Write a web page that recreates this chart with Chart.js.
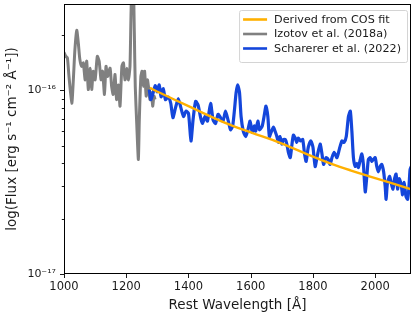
<!DOCTYPE html>
<html><head><meta charset="utf-8">
<script src="https://cdn.jsdelivr.net/npm/chart.js@4.4.1/dist/chart.umd.min.js"></script>
<style>html,body{margin:0;padding:0;background:#fff;}#wrap{width:416px;height:318px;}</style>
</head><body><div id="wrap"><canvas id="c" width="416" height="318"></canvas></div>
<script>
// Flux values are in units of 1e-16 erg s^-1 cm^-2 A^-1
const FLUX_UNIT = 1e-16;

const izotovWave = [1000,1006,1011,1016,1025,1030,1035,1041,1046,1051,1057,1062,1068,1073,1078,1084,1089,1094,1100,1107,1113,1119,1124,1130,1135,1140,1148,1153,1158,1164,1169,1175,1180,1186,1191,1196,1202,1207,1212,1215,1219,1223,1226,1229,1234,1239,1242,1247,1251,1255,1259,1264,1268,1272,1276,1281,1285,1289,1293];
const izotovFlux = [1.61,1.53,1.50,1.19,0.85,1.14,1.66,2.12,1.81,1.47,1.35,1.41,1.14,1.44,1.01,1.32,1.01,1.27,1.14,1.53,1.44,1.14,1.27,0.95,1.35,1.19,1.32,1.05,0.95,1.22,0.89,1.07,0.82,1.35,1.41,1.14,1.32,1.14,1.35,2.42,4.5,3.8,2.06,1.05,0.64,0.42,0.69,1.19,1.27,1.05,1.27,0.93,1.14,1.03,0.89,0.97,0.82,0.93,0.89];

const scharererWave = [1274,1279,1285,1293,1299,1306,1312,1319,1326,1335,1343,1350,1358,1367,1375,1384,1392,1400,1408,1415,1423,1431,1439,1445,1453,1461,1471,1479,1487,1495,1503,1511,1519,1528,1535,1542,1548,1553,1558,1564,1569,1576,1584,1591,1598,1605,1611,1616,1623,1628,1637,1644,1649,1655,1660,1667,1673,1678,1684,1689,1694,1700,1705,1711,1716,1721,1727,1732,1737,1743,1748,1753,1760,1767,1773,1778,1785,1793,1800,1807,1814,1823,1829,1834,1842,1849,1855,1861,1868,1877,1885,1893,1900,1907,1914,1920,1925,1930,1936,1941,1946,1952,1957,1962,1968,1973,1978,1984,1989,1994,2000,2005,2010,2016,2021,2027,2032,2035,2039,2046,2051,2057,2062,2067,2072,2077,2083,2088,2093,2099,2104,2108,2112,2116];
const scharererFlux = [1.01,0.89,0.95,1.06,0.98,1.07,0.92,1.02,0.89,0.92,0.85,0.71,0.80,0.90,0.81,0.72,0.77,0.75,0.53,0.70,0.87,0.83,0.71,0.66,0.72,0.68,0.85,0.69,0.66,0.74,0.71,0.68,0.77,0.68,0.61,0.64,0.79,0.97,1.07,0.97,0.72,0.60,0.56,0.61,0.68,0.59,0.64,0.60,0.68,0.61,0.64,0.74,0.82,0.72,0.56,0.60,0.63,0.60,0.56,0.52,0.56,0.51,0.54,0.54,0.51,0.46,0.43,0.50,0.57,0.55,0.52,0.55,0.53,0.54,0.45,0.41,0.49,0.53,0.49,0.385,0.44,0.51,0.45,0.395,0.43,0.42,0.395,0.43,0.46,0.43,0.48,0.53,0.52,0.56,0.72,0.77,0.60,0.43,0.385,0.40,0.38,0.42,0.45,0.395,0.28,0.34,0.42,0.43,0.41,0.42,0.43,0.385,0.36,0.385,0.395,0.36,0.30,0.255,0.31,0.34,0.315,0.29,0.33,0.35,0.29,0.33,0.31,0.27,0.315,0.264,0.255,0.29,0.37,0.385];

const fitWave = [1276,1308,1400,1518,1600,1694,1800,1855,1920,2000,2116];
const fitFlux = [1.03,0.97,0.82,0.665,0.59,0.518,0.435,0.40,0.367,0.333,0.289];

const seriesLabels = ['Derived from COS fit','Izotov et al. (2018a)','Scharerer et al. (2022)'];
const seriesColors = ['#FFB000','#808080','#1446DB'];

const xTicks = [1000,1200,1400,1600,1800,2000];
const yTicks = [1e-17,2e-17,3e-17,4e-17,5e-17,6e-17,7e-17,8e-17,9e-17,1e-16,2e-16];
const yTickLabels = ['10\u207B\u00B9\u2077','','','','','','','','','10\u207B\u00B9\u2076',''];

const X_MIN = 1000, X_MAX = 2115, Y_MIN = 1e-17, Y_MAX = 2.95e-16;

function pts(w, f){ return w.map((x,i)=>({x:x, y:f[i]*FLUX_UNIT})); }

const FONT = '"DejaVu Sans", sans-serif';

const framePlugin = {
  id:'frame',
  afterDraw(chart){
    const {ctx, chartArea:a, scales:{x,y}} = chart;
    ctx.save();
    ctx.strokeStyle='#000'; ctx.lineWidth=0.9;
    x.ticks.forEach(t=>{
      const px=Math.round(x.getPixelForValue(t.value))+0.5;
      ctx.beginPath(); ctx.moveTo(px,a.bottom); ctx.lineTo(px,a.bottom+4); ctx.stroke();
    });
    y.ticks.forEach((t,i)=>{
      const py=Math.round(y.getPixelForValue(t.value))+0.5;
      const len = yTickLabels[i] ? 4 : 2.2;
      ctx.beginPath(); ctx.moveTo(a.left-len,py); ctx.lineTo(a.left,py); ctx.stroke();
    });
    ctx.lineWidth=1;
    ctx.strokeRect(Math.round(a.left)+0.5, Math.round(a.top)+0.5, Math.round(a.right-a.left)-1, Math.round(a.bottom-a.top)-1);
    // legend
    ctx.font = '11.2px ' + FONT;
    const ds = chart.data.datasets;
    let tw = 0; ds.forEach(d=>{ tw=Math.max(tw, ctx.measureText(d.label).width); });
    const rowH = 14.5, pad = 4, lineLen = 24, gap = 7;
    const bw = pad + lineLen + gap + tw + 6;
    const bh = 52;
    const bx = a.right - 4 - bw, by = a.top + 6;
    ctx.fillStyle='rgba(255,255,255,0.85)';
    ctx.strokeStyle='#d4d4d4'; ctx.lineWidth=1;
    ctx.beginPath();
    if (ctx.roundRect) ctx.roundRect(bx+0.5,by+0.5,bw,bh,2); else ctx.rect(bx+0.5,by+0.5,bw,bh);
    ctx.fill(); ctx.stroke();
    ds.forEach((d,i)=>{
      const cy = by + 9.5 + i*rowH;
      ctx.strokeStyle=d.borderColor; ctx.lineWidth=2.6;
      ctx.beginPath(); ctx.moveTo(bx+pad, cy); ctx.lineTo(bx+pad+lineLen, cy); ctx.stroke();
      ctx.fillStyle='#1a1a1a'; ctx.textBaseline='middle'; ctx.textAlign='left';
      ctx.fillText(d.label, bx+pad+lineLen+gap, cy+0.5);
    });
    ctx.restore();
  }
};

new Chart(document.getElementById('c'), {
  type:'line',
  data:{ datasets:[
    {label:seriesLabels[0], data:pts(fitWave,fitFlux), borderColor:seriesColors[0], borderWidth:2.4, pointRadius:0, tension:0.4, order:0, clip:0},
    {label:seriesLabels[1], data:pts(izotovWave,izotovFlux), borderColor:seriesColors[1], borderWidth:3, pointRadius:0, tension:0.2, order:2, clip:0},
    {label:seriesLabels[2], data:pts(scharererWave,scharererFlux), borderColor:seriesColors[2], borderWidth:3.2, pointRadius:0, tension:0.2, order:1, clip:0}
  ]},
  options:{
    responsive:false, animation:false, devicePixelRatio:1,
    layout:{padding:{top:4,right:5,left:0,bottom:0}},
    plugins:{legend:{display:false}, tooltip:{enabled:false}},
    scales:{
      x:{type:'linear', min:X_MIN, max:X_MAX,
        afterBuildTicks:s=>{ s.ticks = xTicks.map(v=>({value:v})); },
        afterFit:s=>{ s.height = 44; s.paddingLeft = 0; s.paddingRight = 0; },
        grid:{display:true, drawOnChartArea:false, drawTicks:false},
        border:{display:false},
        ticks:{autoSkip:false, maxRotation:0, padding:6, color:'#1a1a1a', font:{family:FONT,size:11.5}, callback:v=>String(v)},
        title:{display:true, text:'Rest Wavelength [\u00C5]', color:'#1a1a1a', font:{family:FONT,size:13.5}, padding:{top:0,bottom:4}}
      },
      y:{type:'logarithmic', min:Y_MIN, max:Y_MAX,
        afterBuildTicks:s=>{ s.ticks = yTicks.map((v,i)=>({value:v, major: !!yTickLabels[i]})); },
        afterFit:s=>{ s.width = 64; s.paddingTop = 0; s.paddingBottom = 0; },
        grid:{display:true, drawOnChartArea:false, drawTicks:false},
        border:{display:false},
        ticks:{autoSkip:false, padding:8, color:'#1a1a1a', font:{family:FONT,size:11}, callback:(v,i)=>yTickLabels[i]},
        title:{display:true, text:'log(Flux [erg s\u207B\u00B9 cm\u207B\u00B2 \u00C5\u207B\u00B9])', color:'#1a1a1a', font:{family:FONT,size:13.5}, padding:{top:4,bottom:0}}
      }
    }
  },
  plugins:[framePlugin]
});
</script></body></html>
